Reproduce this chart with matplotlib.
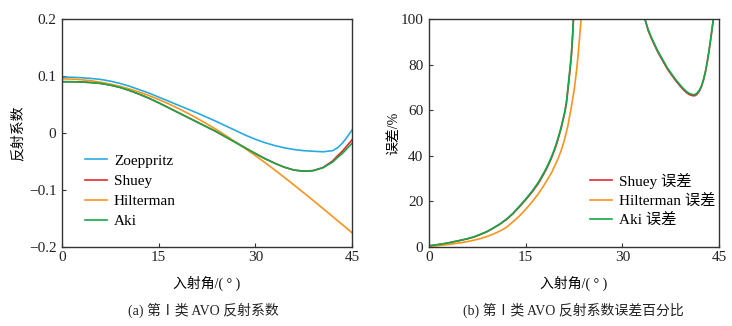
import matplotlib

matplotlib.use("Agg")

import matplotlib.pyplot as plt
from matplotlib.ticker import FixedLocator, FixedFormatter

plt.rcParams["font.family"] = ["Liberation Serif", "Noto Sans CJK SC"]
plt.rcParams["axes.unicode_minus"] = True

# ---------------------------------------------------------------------------
# Datos (a): coeficientes de reflexion
# ---------------------------------------------------------------------------
angulos = [0, 1.5, 3, 4.5, 6, 7.5, 9, 10.5, 12, 13.5, 15, 16.5, 18, 19.5, 21, 22.5,
           24, 25.5, 27, 28.5, 30, 31.5, 33, 34.5, 36, 37.5, 39, 40.5, 42, 42.75,
           43.5, 44.25, 45]
zoeppritz = [0.098, 0.0978, 0.097, 0.0957, 0.094, 0.091, 0.087, 0.082, 0.076, 0.070,
             0.063, 0.056, 0.049, 0.042, 0.035, 0.0275, 0.020, 0.012, 0.004, -0.004,
             -0.011, -0.017, -0.022, -0.026, -0.029, -0.031, -0.032, -0.033, -0.031,
             -0.026, -0.018, -0.007, 0.005]
shuey = [0.090, 0.0899, 0.0895, 0.0885, 0.087, 0.084, 0.080, 0.0745, 0.068, 0.061,
         0.053, 0.0445, 0.036, 0.0275, 0.019, 0.0105, 0.002, -0.0075, -0.017, -0.0265,
         -0.036, -0.045, -0.053, -0.060, -0.065, -0.067, -0.066, -0.0605, -0.049,
         -0.040, -0.032, -0.022, -0.012]
hilterman = [0.095, 0.0946, 0.0935, 0.0917, 0.0891, 0.0858, 0.0818, 0.0771, 0.0717,
             0.0656, 0.0588, 0.0514, 0.0434, 0.0348, 0.0256, 0.0159, 0.0057, -0.0051,
             -0.0163, -0.0279, -0.0395, -0.0519, -0.0647, -0.0778, -0.0912, -0.1048,
             -0.1186, -0.1325, -0.1466, -0.1536, -0.1607, -0.1678, -0.175]
aki = [0.090, 0.0899, 0.0895, 0.0885, 0.087, 0.084, 0.080, 0.0745, 0.068, 0.061,
       0.053, 0.0445, 0.036, 0.0275, 0.019, 0.0105, 0.002, -0.0075, -0.017, -0.0265,
       -0.036, -0.045, -0.053, -0.060, -0.065, -0.067, -0.066, -0.061, -0.051,
       -0.043, -0.036, -0.027, -0.018]

# ---------------------------------------------------------------------------
# Datos (b): error porcentual (dos ramas separadas por la asintota)
# ---------------------------------------------------------------------------
ang_rama1 = [0, 1, 2, 3, 4, 5, 6, 7, 8, 9, 10, 11, 12, 13, 14, 15, 16, 17, 18, 18.5,
             19, 19.5, 20, 20.5, 21, 21.3, 21.6, 21.9, 22.1, 22.3, 22.45, 22.6]
shuey_err1 = [0.5, 0.9, 1.3, 1.8, 2.4, 3.0, 3.6, 4.4, 5.5, 6.7, 8.3, 10.0, 12.0, 14.5,
              17.5, 20.7, 24.1, 28.0, 33.0, 35.8, 39.0, 42.6, 47.0, 52.0, 58.0, 62.5,
              70.0, 78.0, 84.0, 93.0, 102.0, 114.0]
aki_err1 = [0.5, 0.9, 1.3, 1.8, 2.4, 3.0, 3.7, 4.5, 5.6, 6.8, 8.4, 10.1, 12.2, 14.7,
            17.8, 21.0, 24.5, 28.5, 33.5, 36.3, 39.5, 43.2, 47.5, 52.5, 58.5, 63.0,
            71.0, 79.0, 85.0, 94.0, 103.0, 115.0]

ang_hilt1 = [0, 1, 2, 3, 4, 5, 6, 7, 8, 9, 10, 11, 12, 13, 14, 15, 16, 17, 18, 19, 20,
             20.5, 21, 21.5, 22, 22.5, 22.8, 23.1, 23.4, 23.6, 23.8]
hilterman_err1 = [0.3, 0.5, 0.8, 1.1, 1.5, 1.9, 2.4, 3.0, 3.7, 4.6, 5.7, 7.0, 8.6, 11.0,
                  13.5, 16.5, 19.8, 23.5, 27.8, 32.5, 38.5, 42.3, 46.8, 52.5, 60.0,
                  68.5, 75.0, 83.0, 93.0, 100.0, 110.0]

ang_rama2 = [33.3, 33.5, 34, 34.5, 35, 35.5, 36, 36.5, 37, 37.5, 38, 38.5, 39, 39.5,
             40, 40.5, 41, 41.3, 41.6, 42, 42.3, 42.6, 42.9, 43.2, 43.5, 43.8, 44.1, 44.3]
shuey_err2 = [103, 100, 95, 91.5, 88.5, 85.5, 83, 80.5, 78, 76, 74, 72.2, 70.5, 68.9,
              67.6, 66.7, 66.3, 66.4, 67, 68.6, 70.5, 73.3, 76.9, 81.5, 87, 93, 99.5, 104]
aki_err2 = [103, 100, 95.5, 92, 89, 86, 83.5, 81, 78.5, 76.5, 74.5, 72.7, 71, 69.4,
            68.1, 67.2, 66.8, 66.9, 67.5, 69, 70.8, 73.5, 77, 81.5, 87, 93, 99.5, 104]

AZUL = "#29abe2"
ROJO = "#e8262b"
NARANJA = "#f7941d"
VERDE = "#13a84a"
GRIS = "#333333"

figura = plt.figure(figsize=(7.32, 3.26), dpi=100)
eje_a = figura.add_axes([62 / 732, 79 / 326, 290 / 732, 228 / 326])
eje_b = figura.add_axes([429 / 732, 79 / 326, 290 / 732, 228 / 326])


def _estilo_eje(eje):
    for lado in eje.spines.values():
        lado.set_color(GRIS)
        lado.set_linewidth(1.0)
    eje.tick_params(direction="in", length=3, width=0.8, colors=GRIS,
                    labelsize=11, labelcolor="#222222", pad=4)
    eje.tick_params(axis="x", pad=3)
    eje.set_xlim(0, 45)
    eje.xaxis.set_major_locator(FixedLocator([0, 15, 30, 45]))
    eje.set_xlabel("入射角/( ° )", fontsize=10)
    eje.xaxis.set_label_coords(0.5, -0.125)


opciones_leyenda = dict(frameon=False, fontsize=11, handlelength=1.45,
                        handletextpad=0.45, borderpad=0, borderaxespad=0)

# --- (a) ---
eje_a.plot(angulos, zoeppritz, color=AZUL, lw=1.2, label="Zoeppritz")
eje_a.plot(angulos, shuey, color=ROJO, lw=1.2, label="Shuey")
eje_a.plot(angulos, hilterman, color=NARANJA, lw=1.2, label="Hilterman")
eje_a.plot(angulos, aki, color=VERDE, lw=1.2, label="Aki")
_estilo_eje(eje_a)
eje_a.set_ylim(-0.2, 0.2)
eje_a.yaxis.set_major_locator(FixedLocator([-0.2, -0.1, 0, 0.1, 0.2]))
eje_a.yaxis.set_major_formatter(FixedFormatter(["\u22120.2", "\u22120.1", "0", "0.1", "0.2"]))
eje_a.legend(loc="center left", bbox_to_anchor=(0.079, 0.245), labelspacing=0.42,
             **opciones_leyenda)
eje_a.set_ylabel("反射系数", fontsize=10)
eje_a.yaxis.set_label_coords(-0.128, 0.5)

# --- (b) ---
eje_b.plot(ang_rama1, shuey_err1, color=ROJO, lw=1.2, label="Shuey 误差")
eje_b.plot(ang_rama2, shuey_err2, color=ROJO, lw=1.2)
eje_b.plot(ang_hilt1, hilterman_err1, color=NARANJA, lw=1.2, label="Hilterman 误差")
eje_b.plot(ang_rama1, aki_err1, color=VERDE, lw=1.2, label="Aki 误差")
eje_b.plot(ang_rama2, aki_err2, color=VERDE, lw=1.2)
_estilo_eje(eje_b)
eje_b.set_ylim(0, 100)
eje_b.yaxis.set_major_locator(FixedLocator([0, 20, 40, 60, 80, 100]))
eje_b.legend(loc="center left", bbox_to_anchor=(0.555, 0.206), labelspacing=0.33,
             **opciones_leyenda)
eje_b.set_ylabel("误差/%", fontsize=10)
eje_b.yaxis.set_label_coords(-0.1, 0.5)

# Titulos inferiores
figura.text(203 / 732, 1 - 310 / 326, "(a) 第Ⅰ类 AVO 反射系数", ha="center",
            va="center", fontsize=10, color="#222222")
figura.text(573 / 732, 1 - 310 / 326, "(b) 第Ⅰ类 AVO 反射系数误差百分比", ha="center",
            va="center", fontsize=10, color="#222222")

figura.savefig("out.png", dpi=100)
plt.close(figura)
